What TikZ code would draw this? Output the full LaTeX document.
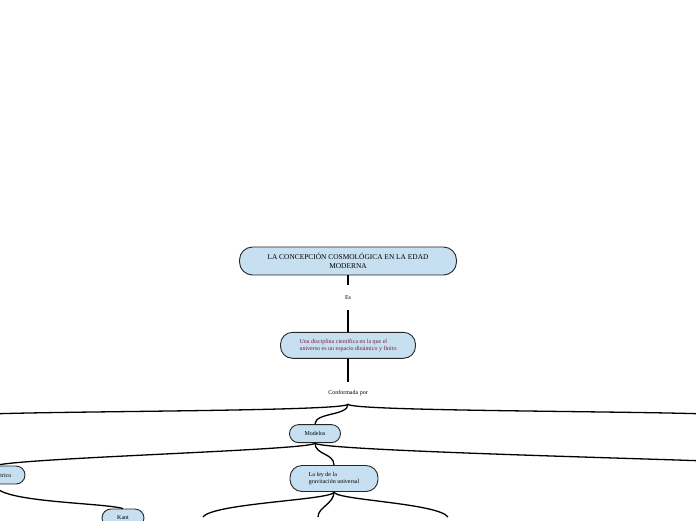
\documentclass[tikz,border=0pt]{standalone}
\usepackage{fontspec}
\setmainfont{Liberation Serif}
\usetikzlibrary{positioning}
\definecolor{topicblue}{RGB}{198,223,241}
\definecolor{topicred}{RGB}{122,28,58}

\begin{document}
\begin{tikzpicture}[
x=1pt,
y=-1pt,
topic/.style={
draw=black!85,
line width=0.9pt,
fill=topicblue,
rounded corners=9pt,
inner sep=0pt,
align=center,
font=\fontsize{6}{7.5}\selectfont
},
linktext/.style={
inner sep=0pt,
minimum height=22pt,
font=\fontsize{6}{7}\selectfont
},
link/.style={
line width=1.3pt
}
]

\useasboundingbox (0,0) rectangle (696,520);
\clip (0,0) rectangle (696,520);

\node (title) [topic, minimum width=217pt, minimum height=28pt, rounded corners=13pt, font=\fontsize{7.4}{8.5}\selectfont] at (348,261)
{LA CONCEPCIÓN COSMOLÓGICA EN LA EDAD\\MODERNA};

\node (es) [linktext, minimum height=24pt, below=10pt of title] {Es};

\node (disciplina) [topic, minimum width=135pt, minimum height=26pt, rounded corners=12pt, align=left, text=topicred, below=22pt of es]
{Una disciplina científica en la que el\\universo es un espacio dinámico y finito};

\node (conformada) [linktext, below=23pt of disciplina] {Conformada por};

\node (modelos) [topic, minimum width=51pt, minimum height=18pt, below=20pt of conformada, xshift=-33pt] {Modelos};

\node (ley) [topic, minimum width=88pt, minimum height=26pt, rounded corners=12pt, align=left, below=22pt of modelos, xshift=19pt]
{La ley de la\\gravitación universal};

\node (heliocentrico) [topic, minimum width=60pt, minimum height=18pt] at (-5,475) {Heliocéntrico};

\node (kant) [topic, minimum width=42pt, minimum height=18pt] at (123,518) {Kant};

\coordinate (conformadaizq) at (-10,414);
\coordinate (conformadader) at (706,414);
\coordinate (modelosder) at (706,461);
\coordinate (leyizq) at (203,517);
\coordinate (leymedio) at (318,517);
\coordinate (leyder) at (448,517);


\draw[link] (title) -- (es);
\draw[link] (es) -- (disciplina);
\draw[link] (disciplina) -- (conformada);
\draw[link] (conformada.south) .. controls +(0,7) and +(80,-3) .. (conformadaizq);
\draw[link] (conformada.south) .. controls +(0,7) and +(-80,-3) .. (conformadader);
\draw[link] (conformada.south) .. controls +(0,12) and +(0,-12) .. (modelos.north);
\draw[link] (modelos.south) .. controls +(0,7) and +(30,-8) .. (heliocentrico.north);
\draw[link] (modelos.south) .. controls +(0,7) and +(-80,-3) .. (modelosder);
\draw[link] (modelos.south) .. controls +(0,12) and +(0,-12) .. (ley.north);
\draw[link] (heliocentrico.south) .. controls +(0,18) and +(-20,-6) .. (kant.north);
\draw[link] (ley.south) .. controls +(0,8) and +(10,-14) .. (leyizq);
\draw[link] (ley.south) .. controls +(0,12) and +(0,-10) .. (leymedio);
\draw[link] (ley.south) .. controls +(0,8) and +(-10,-14) .. (leyder);

\end{tikzpicture}
\end{document}
